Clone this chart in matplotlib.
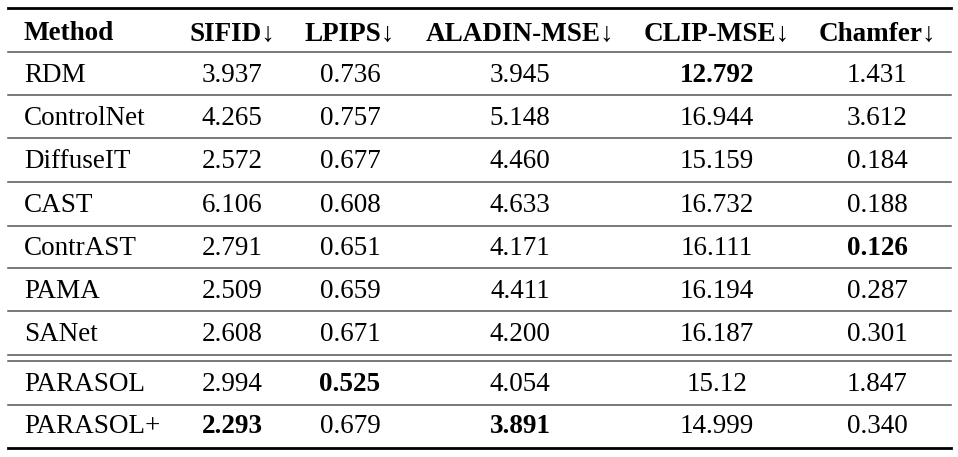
import matplotlib.pyplot as plt

plt.rcParams['font.family'] = ['Liberation Serif', 'DejaVu Serif']

headers = ['Method', 'SIFID↓', 'LPIPS↓', 'ALADIN-MSE↓', 'CLIP-MSE↓', 'Chamfer↓']
methods = ['RDM', 'ControlNet', 'DiffuseIT', 'CAST', 'ContrAST', 'PAMA', 'SANet',
           'PARASOL', 'PARASOL+']
sifid = ['3.937', '4.265', '2.572', '6.106', '2.791', '2.509', '2.608', '2.994', '2.293']
lpips = ['0.736', '0.757', '0.677', '0.608', '0.651', '0.659', '0.671', '0.525', '0.679']
aladin = ['3.945', '5.148', '4.460', '4.633', '4.171', '4.411', '4.200', '4.054', '3.891']
clip = ['12.792', '16.944', '15.159', '16.732', '16.111', '16.194', '16.187', '15.12', '14.999']
chamfer = ['1.431', '3.612', '0.184', '0.188', '0.126', '0.287', '0.301', '1.847', '0.340']
# best value per column (row index)
best = {1: 8, 2: 7, 3: 8, 4: 0, 5: 4}

cols = [sifid, lpips, aladin, clip, chamfer]
col_x = [24, 232, 350, 520, 717, 877]
row_base = [82, 125, 168, 212, 255, 298, 341, 391, 433]
head_base = 40
fs = 19.5

fig = plt.figure(figsize=(9.58, 4.57), dpi=100)
ax = fig.add_axes([0, 0, 1, 1])
ax.set_xlim(0, 958)
ax.set_ylim(457, 0)
ax.axis('off')

for j, h in enumerate(headers):
    ax.text(col_x[j], head_base, h, fontsize=fs, fontweight='bold',
            ha='left' if j == 0 else 'center', va='baseline')

for i, m in enumerate(methods):
    ax.text(col_x[0], row_base[i], m, fontsize=fs, ha='left', va='baseline')
    for j, c in enumerate(cols):
        w = 'bold' if best[j + 1] == i else 'normal'
        ax.text(col_x[j + 1], row_base[i], c[i], fontsize=fs, fontweight=w,
                ha='center', va='baseline')

x0, x1 = 8, 951
ax.plot([x0, x1], [8, 8], color='black', lw=2.0)
ax.plot([x0, x1], [448, 448], color='black', lw=2.0)
for y in [52, 95, 138, 182, 226, 268, 311, 355, 361, 405]:
    ax.plot([x0, x1], [y, y], color='#555555', lw=1.1)

fig.savefig('out.png', dpi=100)
